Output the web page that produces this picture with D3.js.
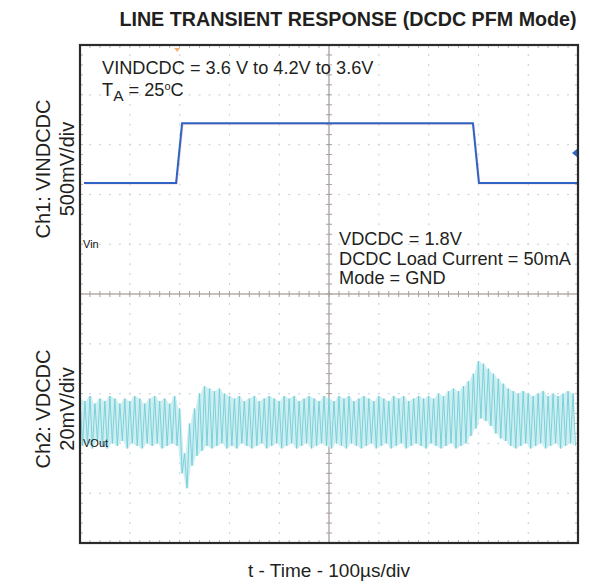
<!DOCTYPE html>
<html><head><meta charset="utf-8">
<script src="https://cdn.jsdelivr.net/npm/d3@7"></script>
<style>body{margin:0;background:#fff;} svg{display:block;font-family:"Liberation Sans",Arial,sans-serif;}</style>
</head><body><div id="chart"></div>
<script>
// ---- data ----
const titleText = "LINE TRANSIENT RESPONSE (DCDC PFM Mode)";
const xLabel = "t - Time - 100\u00B5s/div";
const ch1Labels = ["Ch1: VINDCDC", "500mV/div"];
const ch2Labels = ["Ch2: VDCDC", "20mV/div"];
const noteTop = ["VINDCDC = 3.6 V to 4.2V to 3.6V"];
const noteRight = ["VDCDC = 1.8V", "DCDC Load Current = 50mA", "Mode = GND"];
// Ch1 input voltage (time in µs, volts)
const vinTime = [8, 193, 205, 789, 801, 1000];
const vinVolts = [3.6, 3.6, 4.2, 4.2, 3.6, 3.6];
// Ch2 output ripple, mV relative to the VOut marker, one sample every 5 µs (alternating peaks/troughs)
const voutStep = 5;
const voutMv = [
 18,-1,17,0,19,-2,16,1,18,-1,17,-2,19,0,18,-1,16,1,18,-2,
 17,0,19,-1,18,-2,16,0,18,-1,19,0,17,-2,18,-1,16,0,19,-1,
 14,-12,-4,-18,8,-9,14,-5,20,-3,23,-1,22,-2,21,-1,22,0,20,-2,
 19,-1,18,-2,19,0,17,-1,18,-2,19,-1,17,0,18,-2,19,-1,18,0,
 17,-2,19,-1,18,0,19,-2,17,-1,18,0,19,-2,18,-1,17,0,19,-1,
 18,-2,17,0,19,-1,18,-2,19,0,17,-1,18,-2,19,-1,18,0,17,-2,
 19,-1,18,0,17,-2,19,-1,18,0,19,-2,17,-1,18,0,19,-1,18,-2,
 19,0,18,-1,20,-2,19,-1,21,0,22,-2,21,-1,23,0,25,3,28,6,
 33,10,32,9,30,7,28,4,26,2,24,1,22,-1,21,-2,20,-1,21,0,
 20,-2,19,-1,20,0,21,-2,19,-1,20,0,19,-2,20,-1,21,0,20,-1
];
const ch1VoltsPerDiv = 0.5, ch1MarkerVolts = 2.985, ch1MarkerDiv = 4;
const ch2MvPerDiv = 20, ch2MarkerDiv = 8;
const triggerVolts = 3.9, triggerTime = 195;
const divisions = 10, minorPerDiv = 5;

// ---- layout ----
const W = 590, H = 584;
const plot = {left: 80, right: 578, top: 45, bottom: 543};
const svg = d3.select("#chart").append("svg").attr("width", W).attr("height", H);

const xDiv = d3.scaleLinear().domain([0, divisions]).range([plot.left, plot.right]);
const yDiv = d3.scaleLinear().domain([0, divisions]).range([plot.top, plot.bottom]);
const xTime = d3.scaleLinear().domain([0, 1000]).range([plot.left, plot.right]);
const yCh1 = v => yDiv(ch1MarkerDiv - (v - ch1MarkerVolts) / ch1VoltsPerDiv);
const yCh2 = mv => yDiv(ch2MarkerDiv - mv / ch2MvPerDiv);

const g = svg.append("g");
// grid dots
const minorTicks = d3.range(0, divisions * minorPerDiv + 1).map(i => i / minorPerDiv);
const majors = d3.range(1, divisions);
const dotCol = "#c9d6de";
majors.filter(k => k !== 5).forEach(k => {
  g.append("g").selectAll("rect").data(minorTicks).join("rect")
    .attr("x", xDiv(k) - 0.5).attr("y", d => yDiv(d) - 1).attr("width", 1.2).attr("height", 2).attr("fill", dotCol);
  g.append("g").selectAll("rect").data(minorTicks).join("rect")
    .attr("x", d => xDiv(d) - 1).attr("y", yDiv(k) - 0.5).attr("width", 2).attr("height", 1.2).attr("fill", dotCol);
});
// center crosshair with ticks
const cross = "#8f8580";
g.append("line").attr("x1", plot.left).attr("x2", plot.right).attr("y1", yDiv(5)).attr("y2", yDiv(5)).attr("stroke", cross).attr("stroke-width", 1);
g.append("line").attr("y1", plot.top).attr("y2", plot.bottom).attr("x1", xDiv(5)).attr("x2", xDiv(5)).attr("stroke", cross).attr("stroke-width", 1);
g.append("g").selectAll("line").data(minorTicks).join("line")
  .attr("x1", d => xDiv(d)).attr("x2", d => xDiv(d)).attr("y1", yDiv(5) - 3).attr("y2", yDiv(5) + 3).attr("stroke", "#a8a09a");
g.append("g").selectAll("line").data(minorTicks).join("line")
  .attr("y1", d => yDiv(d)).attr("y2", d => yDiv(d)).attr("x1", xDiv(5) - 3).attr("x2", xDiv(5) + 3).attr("stroke", "#a8a09a");
// frame edge ticks
g.append("g").selectAll("line").data(minorTicks).join("line")
  .attr("y1", d => yDiv(d)).attr("y2", d => yDiv(d)).attr("x1", plot.left).attr("x2", plot.left + 3).attr("stroke", "#b0b8bc");
g.append("g").selectAll("line").data(minorTicks).join("line")
  .attr("y1", d => yDiv(d)).attr("y2", d => yDiv(d)).attr("x1", plot.right - 3).attr("x2", plot.right).attr("stroke", "#b0b8bc");
g.append("g").selectAll("line").data(minorTicks).join("line")
  .attr("x1", d => xDiv(d)).attr("x2", d => xDiv(d)).attr("y1", plot.top).attr("y2", plot.top + 3).attr("stroke", "#b0b8bc");
g.append("g").selectAll("line").data(minorTicks).join("line")
  .attr("x1", d => xDiv(d)).attr("x2", d => xDiv(d)).attr("y1", plot.bottom - 3).attr("y2", plot.bottom).attr("stroke", "#b0b8bc");

// annotations
const fs = 18.2;
noteTop.forEach((t, i) => {
  g.append("text").attr("x", 102).attr("y", 74).attr("font-size", fs).attr("fill", "#231f20").text(t);
});
const ta = g.append("text").attr("x", 102).attr("y", 96).attr("font-size", fs).attr("fill", "#231f20");
ta.append("tspan").text("T");
ta.append("tspan").attr("dy", 5).attr("font-size", fs * 0.85).text("A");
ta.append("tspan").attr("dy", -5).text(" = 25");
ta.append("tspan").attr("dy", -6).attr("font-size", fs * 0.6).text("o");
ta.append("tspan").attr("dy", 6).text("C");
noteRight.forEach((t, i) => {
  g.append("text").attr("x", 339).attr("y", 245 + i * 19.5).attr("font-size", fs).attr("fill", "#231f20").text(t);
});

// Vout waveform: envelope band + ripple lines
const vout = voutMv.map((v, i) => [i * voutStep, v]);
const pairs = d3.range(0, voutMv.length - 1).map(i => ({t: (i + 0.5) * voutStep, hi: Math.max(voutMv[i], voutMv[i + 1]), lo: Math.min(voutMv[i], voutMv[i + 1])}));
g.append("path").datum(pairs)
  .attr("d", d3.area().x(d => xTime(d.t)).y0(d => yCh2(d.lo)).y1(d => yCh2(d.hi)))
  .attr("fill", "#c8edf0").attr("opacity", 0.9);
g.append("path").datum(vout)
  .attr("d", d3.line().x(d => xTime(d[0])).y(d => yCh2(d[1])))
  .attr("fill", "none").attr("stroke", "#74cdd8").attr("stroke-width", 1).attr("opacity", 0.9);

// channel markers (drawn on top of traces)
const markFont = "'Liberation Sans Narrow','Liberation Sans',sans-serif";
g.append("text").attr("x", 83).attr("y", yDiv(ch1MarkerDiv) + 4).attr("font-size", 11).attr("font-family", markFont).attr("fill", "#111").text("Vin");
g.append("text").attr("x", 83).attr("y", yDiv(ch2MarkerDiv) + 4).attr("font-size", 11).attr("font-family", markFont).attr("fill", "#111").text("VOut");

// Vin waveform
const vin = vinTime.map((t, i) => [t, vinVolts[i]]);
g.append("path").datum(vin)
  .attr("d", d3.line().x(d => xTime(d[0]) + 1).y(d => yCh1(d[1]) + 1))
  .attr("fill", "none").attr("stroke", "#e8a8b8").attr("stroke-width", 1).attr("opacity", 0.6);
g.append("path").datum(vin)
  .attr("d", d3.line().x(d => xTime(d[0])).y(d => yCh1(d[1])))
  .attr("fill", "none").attr("stroke", "#2f63c4").attr("stroke-width", 2);

// trigger markers
const ty = yCh1(triggerVolts);
g.append("path").attr("d", `M${plot.right - 6},${ty} l5,-4 v8 z`).attr("fill", "#2f63c4");
const tx = xTime(triggerTime);
g.append("path").attr("d", `M${tx - 3},${plot.top + 3} h6 l-3,4 z`).attr("fill", "#f0b070");

// frame
g.append("rect").attr("x", plot.left).attr("y", plot.top).attr("width", plot.right - plot.left).attr("height", plot.bottom - plot.top)
  .attr("fill", "none").attr("stroke", "#2b2b2b").attr("stroke-width", 2.2);

// titles
svg.append("text").attr("x", 348).attr("y", 26).attr("text-anchor", "middle").attr("font-size", 19.7).attr("font-weight", "bold").attr("fill", "#231f20").text(titleText);
svg.append("text").attr("x", 329).attr("y", 577).attr("text-anchor", "middle").attr("font-size", 19).attr("fill", "#231f20").text(xLabel);
[[ch1Labels, 169], [ch2Labels, 409]].forEach(([labels, cy]) => {
  labels.forEach((t, i) => {
    svg.append("text").attr("transform", `translate(${50 + i * 24},${cy}) rotate(-90)`)
      .attr("text-anchor", "middle").attr("font-size", 20).attr("fill", "#231f20").text(t);
  });
});
</script></body></html>
